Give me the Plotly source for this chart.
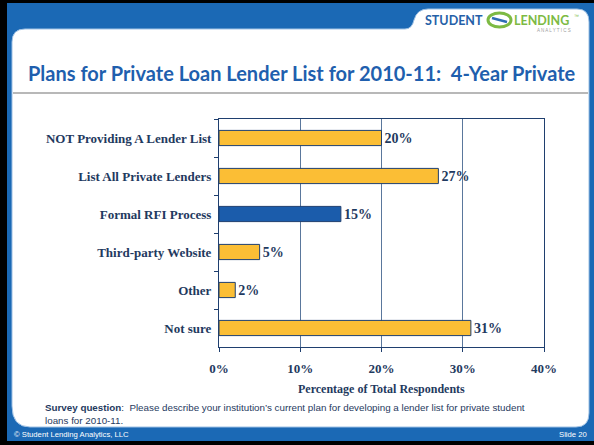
import plotly.graph_objects as go

categories = ["NOT Providing A Lender List", "List All Private Lenders", "Formal RFI Process",
              "Third-party Website", "Other", "Not sure"]
values = [20, 27, 15, 5, 2, 31]
bar_colors = ["#FBBE35", "#FBBE35", "#1B5CAB", "#FBBE35", "#FBBE35", "#FBBE35"]
x_ticks = [0, 10, 20, 30, 40]
x_tick_labels = ["0%", "10%", "20%", "30%", "40%"]
title_text = "Plans for Private Loan Lender List for 2010-11:  4-Year Private"
x_title = "Percentage of Total Respondents"
survey_bold = "Survey question"
survey_rest = ":  Please describe your institution\u2019s current plan for developing a lender list for private student<br>loans for 2010-11."
footer_left = "\u00a9 Student Lending Analytics, LLC"
footer_right = "Slide 20"

W, H = 594, 445
L, R, T, B = 219, 544, 119, 347

def px(x):
    return (x - L) / (R - L)

def py(y):
    return (B - y) / (B - T)

NAVY = "#1F3A60"
BLUE = "#1B69B5"
SERIF = "Liberation Serif, Times New Roman, serif"
TITLEF = "Lato, Roboto, sans-serif"
SANS = "Liberation Sans, Arial, sans-serif"

fig = go.Figure()
fig.add_trace(go.Bar(
    x=values, y=categories, orientation="h",
    marker=dict(color=bar_colors, line=dict(color="#1F3F6F", width=1)),
    text=[f"{v}%" for v in values], texttemplate="%{text}", textposition="outside",
    textfont=dict(family=SERIF, size=14, color=NAVY, weight="bold"),
    cliponaxis=False, hoverinfo="skip",
))

shapes = []
shapes.append(dict(type="rect", xref="paper", yref="paper", layer="below",
                   x0=px(7), x1=px(594), y0=py(441), y1=py(3),
                   fillcolor=BLUE, line=dict(width=0)))

def P(x, y):
    return f"{px(x):.5f},{py(y):.5f}"

d = ("M " + P(12, 42) +
     " Q " + P(12, 29) + " " + P(25, 29) +
     " L " + P(405, 29) +
     " Q " + P(412, 29) + " " + P(414, 20) +
     " Q " + P(417, 9) + " " + P(428, 9) +
     " L " + P(577, 9) +
     " Q " + P(589, 9) + " " + P(589, 22) +
     " L " + P(589, 413) +
     " Q " + P(589, 427) + " " + P(576, 427) +
     " L " + P(30, 427) +
     " Q " + P(12, 427) + " " + P(12, 406) + " Z")
shapes.append(dict(type="path", xref="paper", yref="paper", layer="below",
                   path=d, fillcolor="white", line=dict(color="#9DC0E4", width=1)))
shapes.append(dict(type="line", xref="paper", yref="paper", layer="below",
                   x0=px(13), x1=px(588), y0=py(93), y1=py(93),
                   line=dict(color="#B8B8B8", width=2)))
shapes.append(dict(type="circle", xref="paper", yref="paper",
                   x0=px(488), x1=px(511), y0=py(27), y1=py(13),
                   line=dict(color="#7DBA43", width=3), fillcolor="rgba(0,0,0,0)"))
shapes.append(dict(type="line", xref="paper", yref="paper",
                   x0=px(492), x1=px(507), y0=py(18), y1=py(22),
                   line=dict(color="#2E6DB4", width=2.5)))

ann = []
ann.append(dict(text="<b>" + title_text + "</b>", x=px(302), y=py(73), xref="paper", yref="paper",
                showarrow=False, xanchor="center", yanchor="middle",
                font=dict(family=TITLEF, size=20, color="#1F5FAE")))
ann.append(dict(text="<b>STUDENT</b>", x=px(485), y=py(20), xref="paper", yref="paper",
                showarrow=False, xanchor="right", yanchor="middle",
                font=dict(family=TITLEF, size=12.5, color="#2560A8")))
ann.append(dict(text="<b>LENDING</b>", x=px(512), y=py(20), xref="paper", yref="paper",
                showarrow=False, xanchor="left", yanchor="middle",
                font=dict(family=TITLEF, size=12.5, color="#7DBA43")))
ann.append(dict(text="\u2122", x=px(572), y=py(16), xref="paper", yref="paper",
                showarrow=False, xanchor="left", yanchor="middle",
                font=dict(family=SANS, size=5, color="#7DBA43")))
ann.append(dict(text="A N A L Y T I C S", x=px(573), y=py(31), xref="paper", yref="paper",
                showarrow=False, xanchor="right", yanchor="middle",
                font=dict(family=SANS, size=4.5, color="#A0A0A0")))
ann.append(dict(text="<b>" + x_title + "</b>", x=px(381), y=py(389), xref="paper", yref="paper",
                showarrow=False, xanchor="center", yanchor="middle",
                font=dict(family=SERIF, size=12, color=NAVY)))
ann.append(dict(text="<b>" + survey_bold + "</b>" + survey_rest, x=px(43), y=py(400), xref="paper", yref="paper",
                showarrow=False, xanchor="left", yanchor="top", align="left",
                font=dict(family=SANS, size=9.8, color=NAVY)))
ann.append(dict(text=footer_left, x=px(12), y=py(434), xref="paper", yref="paper",
                showarrow=False, xanchor="left", yanchor="middle",
                font=dict(family=SANS, size=7.7, color="white")))
ann.append(dict(text=footer_right, x=px(589), y=py(434), xref="paper", yref="paper",
                showarrow=False, xanchor="right", yanchor="middle",
                font=dict(family=SANS, size=7.7, color="white")))

fig.update_layout(
    width=W, height=H,
    margin=dict(l=L, r=W - R, t=T, b=H - B, pad=0),
    paper_bgcolor="black", plot_bgcolor="white",
    showlegend=False, bargap=0.6,
    shapes=shapes, annotations=ann,
    xaxis=dict(range=[0, 40], tickmode="array", tickvals=x_ticks, ticktext=x_tick_labels,
               showgrid=True, gridcolor="#5A779C", gridwidth=1, showline=True, linecolor="#1F3F6F",
               linewidth=1, mirror=True, ticks="outside", ticklen=4, tickcolor="#1F3F6F",
               ticklabelstandoff=5,
               tickfont=dict(family=SERIF, size=13, color=NAVY, weight="bold"),
               zeroline=False, fixedrange=True),
    yaxis=dict(categoryorder="array", categoryarray=categories, autorange="reversed",
               showline=True, linecolor="#1F3F6F", linewidth=1, mirror=True,
               ticks="outside", ticklen=4, tickcolor="#1F3F6F", tickson="boundaries",
               ticklabelstandoff=4,
               tickfont=dict(family=SERIF, size=13, color=NAVY, weight="bold"),
               showgrid=False, fixedrange=True),
)

fig.write_html("out.html", config={"displayModeBar": False},
               post_script="document.body.style.margin='0';document.body.style.overflow='hidden';")
